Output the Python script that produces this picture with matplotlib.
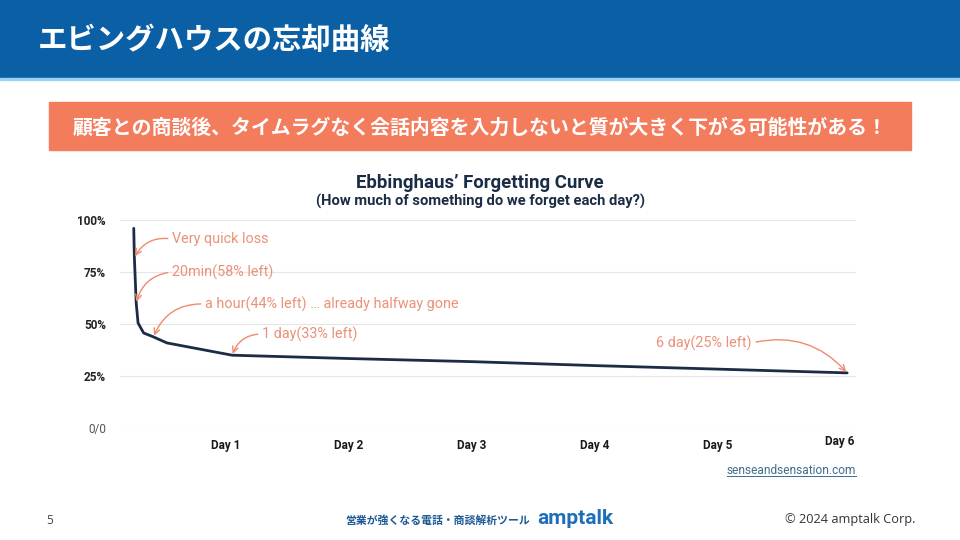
import matplotlib
matplotlib.use("Agg")
import matplotlib.pyplot as plt
from matplotlib.patches import Rectangle
from matplotlib.lines import Line2D

# curve data (x in "day" units as placed on the slide, y in % retained)
days = [0.25, 0.255, 0.27, 0.285, 0.33, 0.41, 0.52, 1.05, 2.0, 3.0, 4.0, 5.0, 6.05]
retention = [96, 82, 60, 50.5, 45.7, 43.8, 40.9, 35.0, 33.4, 31.9, 30.0, 28.3, 26.5]

y_ticks = [0, 25, 50, 75, 100]
y_labels = ["0/0", "25%", "50%", "75%", "100%"]
day_ticks = [1, 2, 3, 4, 5, 6]
day_labels = ["Day 1", "Day 2", "Day 3", "Day 4", "Day 5", "Day 6"]

# annotations: (label, index of curve point)
notes = [
    ("Very quick loss", 1),
    ("20min(58% left)", 2),
    ("a hour(44% left) … already halfway gone", 5),
    ("1 day(33% left)", 7),
    ("6 day(25% left)", 12),
]

W, H = 960, 540
JP = ["Noto Sans CJK JP", "DejaVu Sans"]
NAVY = "#1b2c45"
SALMON = "#ef8a6d"


def fx(x):
    return x / W


def fy(y):
    return 1 - y / H


fig = plt.figure(figsize=(9.6, 5.4), dpi=100)
fig.patch.set_facecolor("white")

# header band
fig.patches.append(Rectangle((0, fy(78)), 1, 78 / H, transform=fig.transFigure,
                             color="#0b5fa5", zorder=0))
fig.patches.append(Rectangle((0, fy(80)), 1, 2 / H, transform=fig.transFigure,
                             color="#9ad3f2", zorder=0))
fig.text(fx(38), fy(40), "エビングハウスの忘却曲線", family=JP, fontsize=21.2,
         fontweight="bold", color="white", va="center", ha="left")

# orange banner
fig.patches.append(Rectangle((fx(49), fy(150)), (911 - 49) / W, 48 / H,
                             transform=fig.transFigure, color="#f37c5d", zorder=0))
fig.text(fx(480), fy(127), "顧客との商談後、タイムラグなく会話内容を入力しないと質が大きく下がる可能性がある！",
         family=JP, fontsize=14.3, fontweight="bold", color="white",
         va="center", ha="center")

# chart titles
fig.text(fx(480), fy(183), "Ebbinghaus’ Forgetting Curve", family="Roboto",
         fontsize=13.4, fontweight="bold", color=NAVY, ha="center", va="center")
fig.text(fx(480), fy(201), "(How much of something do we forget each day?)",
         family="Roboto", fontsize=10.6, fontweight="bold", color=NAVY,
         ha="center", va="center")

# axes
x0, x1 = 120, 856
y0, y1 = 220, 428
ax = fig.add_axes([fx(x0), fy(y1), (x1 - x0) / W, (y1 - y0) / H])
ax.set_xlim((x0 - 103) / 123, (x1 - 103) / 123)
ax.set_ylim(0, 100)
for s in ax.spines.values():
    s.set_visible(False)
ax.set_xticks([])
ax.set_yticks(y_ticks)
ax.set_yticklabels(y_labels)
ax.tick_params(axis="y", length=0, pad=10)
for t, lab in zip(ax.get_yticklabels(), y_labels):
    t.set_family("Roboto")
    t.set_fontsize(8.5)
    if lab == "0/0":
        t.set_color("#555555")
    else:
        t.set_fontweight("bold")
        t.set_color("#222222")
ax.grid(axis="y", color="#e6e6e6", linewidth=0.8)
ax.set_axisbelow(True)

ax.plot(days, retention, color=NAVY, linewidth=2, solid_capstyle="round")

# day labels under the axis
for d, lab in zip(day_ticks, day_labels):
    xp = 103 + 123 * d if d < 6 else 840
    yp = 445 if d < 6 else 441
    fig.text(fx(xp), fy(yp), lab, family="Roboto", fontsize=8.5, fontweight="bold",
             color="#1a1a1a", ha="center", va="center")

# annotations (text position in slide pixels)
text_pos = [(172, 239, "left", 0.35), (172, 272, "left", 0.35),
            (205, 304, "left", 0.35), (262, 334, "left", 0.35),
            (752, 343, "right", -0.3)]
for (lab, idx), (tx, ty, ha, rad) in zip(notes, text_pos):
    rel = (0, 0.5) if ha == "left" else (1, 0.5)
    ax.annotate(lab, xy=(days[idx], retention[idx]),
                xytext=(tx, H - ty), textcoords="figure pixels",
                ha=ha, va="center", family="Roboto", fontsize=10.4,
                color="#eb9177",
                arrowprops=dict(arrowstyle="->", color=SALMON, lw=1,
                                shrinkA=1, shrinkB=1, relpos=rel,
                                connectionstyle=f"arc3,rad={rad}"))

# source link
src = fig.text(fx(856), fy(470), "senseandsensation.com", family="Roboto",
               fontsize=8.6, color="#3d6d8c", ha="right", va="center")
fig.canvas.draw()
bb = src.get_window_extent()
fig.lines.append(Line2D([bb.x0 / W, bb.x1 / W], [(bb.y0 + 1) / H] * 2,
                        transform=fig.transFigure, color="#3d6d8c", lw=0.7))

# footer
fig.text(fx(50), fy(520), "5", family="Open Sans", fontsize=8.5, color="#444444",
         ha="center", va="center")
fig.text(fx(530), fy(520), "営業が強くなる電話・商談解析ツール", family=JP, fontsize=7.8,
         fontweight="bold", color="#1d5a96", ha="right", va="center")
fig.text(fx(537), fy(518), "amptalk", family="Roboto", fontsize=15,
         fontweight="bold", color="#1e6fb8", ha="left", va="center")
fig.text(fx(915), fy(520), "© 2024 amptalk Corp.", family="Open Sans",
         fontsize=9.2, color="#333333", ha="right", va="center")

fig.savefig("out.png", dpi=100)
